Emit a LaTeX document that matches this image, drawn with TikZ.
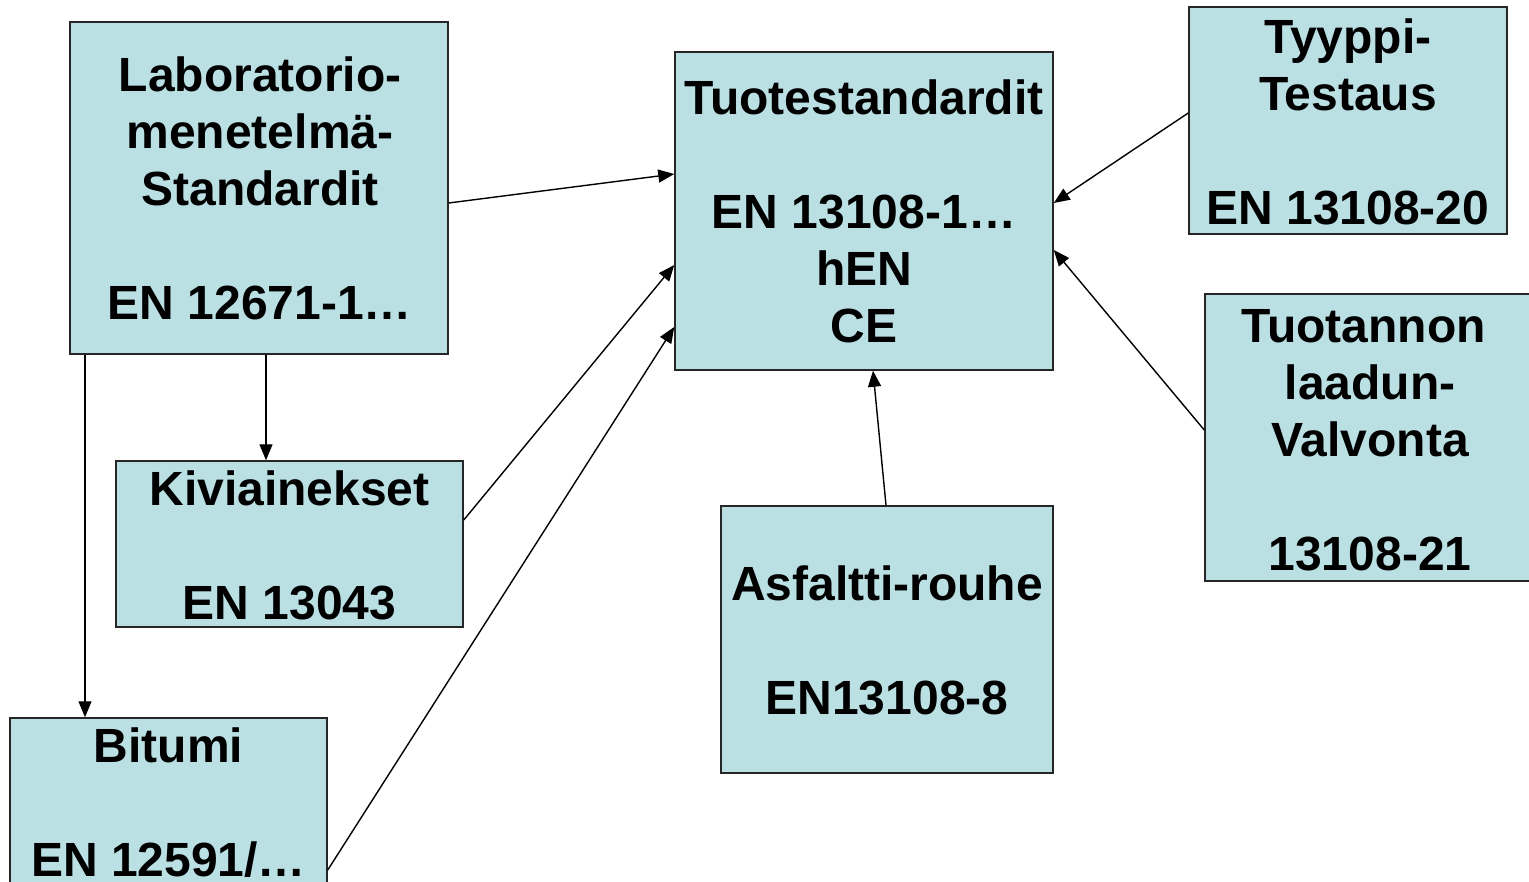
\documentclass[tikz,border=0pt]{standalone}
\usepackage{fontspec}
\setmainfont{Liberation Sans}
\usetikzlibrary{arrows.meta}
\definecolor{boxfill}{HTML}{BAE0E4}
\begin{document}
\begin{tikzpicture}[x=1pt,y=-1pt,
  box/.style={draw=black!85,line width=1.5pt,fill=boxfill,inner sep=0pt,minimum width=#1},
  txt/.style={anchor=north,align=center,inner sep=0pt,font=\fontsize{48}{57}\selectfont\bfseries},
  conn/.style={line width=1.4pt,-{Triangle[length=16pt,width=13pt]}}]
\useasboundingbox (0,0) rectangle (1529,882);
% boxes
\node[box=378pt,minimum height=332pt] (lab) at (259,188) {};
\node[box=378pt,minimum height=318pt] (tuote) at (864,211) {};
\node[box=318pt,minimum height=227pt] (tyyp) at (1348,120.5) {};
\node[box=326pt,minimum height=287pt] (tuot) at (1368,437.5) {};
\node[box=347pt,minimum height=166pt] (kivi) at (289.5,544) {};
\node[box=332pt,minimum height=267pt] (asf) at (887,639.5) {};
\node[box=317pt,minimum height=166pt] (bit) at (168.5,801) {};
% texts (north = first baseline - 39.9)
\node[txt] (labT) at (260,51.1) {\strut Laboratorio-\\menetelmä-\\Standardit\\ \\EN 12671-1…};
\node[txt] (tuoteT) at (864,74.1) {\strut Tuotestandardit\\ \\EN 13108-1…\\hEN\\CE};
\node[txt] (tyypT) at (1348,13.1) {\strut Tyyppi-\\Testaus\\ \\EN 13108-20};
\node[txt] (tuotT) at (1370,302.1) {\strut Tuotannon\kern13pt\\laadun-\\Valvonta\\ \\13108-21};
\node[txt] (kiviT) at (289.5,465.1) {\strut Kiviainekset\\ \\EN 13043};
\node[txt] (asfT) at (887,560.1) {\strut Asfaltti-rouhe\\ \\EN13108-8};
\node[txt] (bitT) at (168.5,722.1) {\strut Bitumi\\ \\EN 12591/…};
% connectors
\draw[conn] ([yshift=-15pt]lab.east) -- ([yshift=37pt]tuote.west);
\draw[conn] ([yshift=24pt]kivi.east) -- ([yshift=-54pt]tuote.west);
\draw[conn] ([yshift=-69pt]bit.east) -- ([yshift=-116pt]tuote.west);
\draw[conn] ([yshift=7.5pt]tyyp.west) -- ([yshift=8pt]tuote.east);
\draw[conn] ([yshift=7.5pt]tuot.west) -- ([yshift=-39pt]tuote.east);
\draw[conn] ([xshift=-1pt]asf.north) -- ([xshift=9pt]tuote.south);
\draw[conn] ([xshift=7pt]lab.south) -- ([xshift=-23.5pt]kivi.north);
\draw[conn] ([xshift=-174pt]lab.south) -- ([xshift=-83.5pt]bit.north);
\end{tikzpicture}
\end{document}
